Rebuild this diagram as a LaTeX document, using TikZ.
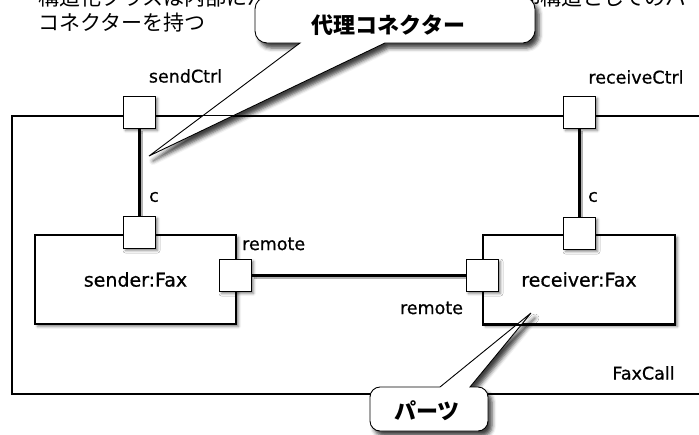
\documentclass[tikz,border=0pt]{standalone}
\usepackage{fontspec}
\setmainfont{DejaVu Sans}
\newfontfamily\latin[FakeBold=0.7]{DejaVu Sans}
\newfontfamily\jp{Noto Sans CJK JP}
\usetikzlibrary{shadows.blur,backgrounds}

\tikzset{
  sh/.style={blur shadow={shadow xshift=2.5pt, shadow yshift=-2.5pt, shadow blur radius=2.5pt, shadow opacity=50}},
  port/.style={draw, line width=0.9pt, fill=white, minimum size=32pt, inner sep=0pt, sh},
  part/.style={draw, line width=1.6pt, fill=white, inner sep=0pt, sh, font=\latin\fontsize{19}{22}\selectfont},
  lbl/.style={font=\latin\fontsize{17.5}{20}\selectfont, inner sep=0pt},
  conn/.style={line width=3pt, preaction={draw=black!30, line width=3pt, transform canvas={xshift=2.5pt, yshift=-2.5pt}}},
  bubble/.style={draw, line width=0.9pt, fill=white, blur shadow={shadow xshift=4pt, shadow yshift=-5pt, shadow blur radius=4pt, shadow opacity=75}},
  jptext/.style={font=\jp\fontsize{21}{24}\selectfont, inner sep=0pt},
  bubtext/.style={font=\jp\bfseries\fontsize{22}{26}\selectfont, inner sep=0pt},
}

\begin{document}
\begin{tikzpicture}[x=1pt, y=-1pt]
\useasboundingbox (0,0) rectangle (699,434);
\clip (0,0) rectangle (699,434);

% explanatory text
\node[jptext, anchor=west] (line1) at (38,-2) {構造化クラスは内部にパーツと、それらをつなぐ内部構造としてのパーツと};
\node[jptext, anchor=west] (line2) at (38,22.5) {コネクターを持つ};

% structured class frame
\node[draw, line width=1.3pt, minimum width=728pt, minimum height=278pt, inner sep=0pt] (call) at (376,255) {};
\node[lbl] (calllbl) at (643.5,373) {FaxCall};

% parts
\node[part, minimum width=201pt, minimum height=89pt] (sender) at (135.5,279.5) {sender:Fax};
\node[part, minimum width=192pt, minimum height=89pt] (recv) at (579,279.5) {receiver:Fax};

% callouts
\coordinate (tipA) at (149,156);
\coordinate (tipB) at (531,313);
\path[bubble] (300,43) -- (tipA) -- (385,43) -- (523,43)
  .. controls (529.6,43) and (535,36.4) .. (535,31) -- (535,9)
  .. controls (535,2.4) and (529.6,-3) .. (523,-3) -- (267,-3)
  .. controls (260.4,-3) and (255,2.4) .. (255,9) -- (255,31)
  .. controls (255,37.6) and (260.4,43) .. (267,43) -- cycle;
\node[bubtext] (proxy) at (388.5,25) {代理コネクター};

\path[bubble] (440,387) -- (tipB) -- (470,387) -- (478,387)
  .. controls (483.5,387) and (488,391.5) .. (488,397) -- (488,421)
  .. controls (488,426.5) and (483.5,431) .. (478,431) -- (380,431)
  .. controls (374.5,431) and (370,426.5) .. (370,421) -- (370,397)
  .. controls (370,391.5) and (374.5,387) .. (380,387) -- cycle;
\node[bubtext] (parts) at (427,411) {パーツ};

% edges that run across the callout tails
\draw[line width=1.3pt] (call.north west) -- (call.north east);
\draw[line width=1.6pt] (recv.south west) -- (recv.south east);

% ports
\node[port] (sc) at (139,112) {};
\node[port] (scin) at (139,232) {};
\node[port] (sr) at (235,275) {};
\node[port] (rr) at (482,275) {};
\node[port] (rc) at (579,112) {};
\node[port] (rcin) at (579,233) {};

% connectors, kept beneath the ports
\begin{pgfonlayer}{background}
\draw[conn] (sc.south) -- (scin.north);
\draw[conn] (rc.south) -- (rcin.north);
\draw[conn] (sr.east) -- (rr.west);
\end{pgfonlayer}

% port and connector labels
\node[lbl] (sclbl) at (185.5,76) {sendCtrl};
\node[lbl] (rclbl) at (636,77) {receiveCtrl};
\node[lbl] (c1) at (154,197) {c};
\node[lbl] (c2) at (593,197) {c};
\node[lbl, anchor=west] (rem1) at (242,244) {remote};
\node[lbl] (rem2) at (431.5,308) {remote};
\end{tikzpicture}
\end{document}
